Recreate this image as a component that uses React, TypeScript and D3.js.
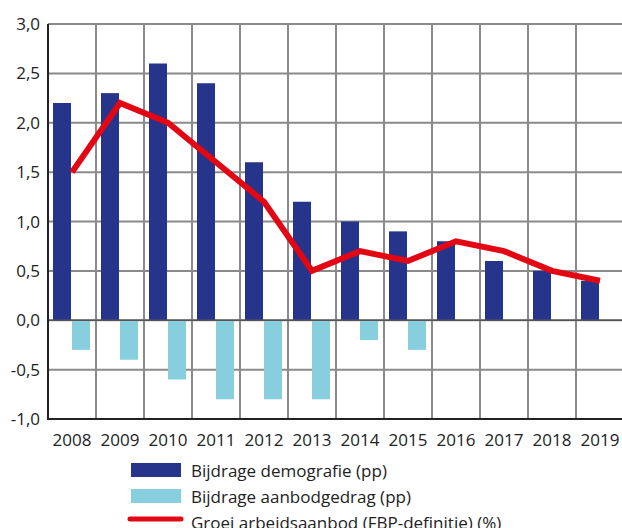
import React from 'react';
import * as d3 from 'd3';

const years = ['2008', '2009', '2010', '2011', '2012', '2013', '2014', '2015', '2016', '2017', '2018', '2019'];
const demografie = [2.2, 2.3, 2.6, 2.4, 1.6, 1.2, 1.0, 0.9, 0.8, 0.6, 0.5, 0.4];
const aanbodgedrag = [-0.3, -0.4, -0.6, -0.8, -0.8, -0.8, -0.2, -0.3, 0, 0, 0, 0];
const groei = [1.5, 2.2, 2.0, 1.6, 1.2, 0.5, 0.7, 0.6, 0.8, 0.7, 0.5, 0.4];
const yTicks = [3.0, 2.5, 2.0, 1.5, 1.0, 0.5, 0.0, -0.5, -1.0];
const legendLabels = ['Bijdrage demografie (pp)', 'Bijdrage aanbodgedrag (pp)', 'Groei arbeidsaanbod (FBP-definitie) (%)'];

const DARK = '#27348b';
const LIGHT = '#87cfdf';
const RED = '#e30613';
const FONT = 'Open Sans, sans-serif';

export default function App() {
  const width = 622, height = 528;
  const margin = { top: 24, left: 48, bottom: 419 };
  const x = d3.scaleBand().domain(years).range([margin.left, margin.left + 48 * years.length]);
  const y = d3.scaleLinear().domain([-1, 3]).range([margin.bottom, margin.top]);
  const right = margin.left + 48 * years.length;

  const line = d3.line<number>()
    .x((_, i) => (x(years[i]) as number) + x.bandwidth() / 2)
    .y((d) => y(d));

  const fmt = (v: number) => d3.format('.1f')(v).replace('.', ',').replace('−', '-');

  return (
    <svg width={width} height={height} style={{ position: 'absolute', left: 0, top: 0 }}>
      <rect width={width} height={height} fill="#fff" />
      {/* grid */}
      {yTicks.map((t) => (
        <line key={'h' + t} x1={margin.left} x2={right} y1={y(t)} y2={y(t)} stroke="#8a8a8a" strokeWidth={2} />
      ))}
      {years.map((yr, i) => i > 0 && (
        <line key={'v' + yr} x1={x(yr)} x2={x(yr)} y1={margin.top} y2={margin.bottom} stroke="#8a8a8a" strokeWidth={2} />
      ))}
      {/* bars */}
      {years.map((yr, i) => (
        <g key={'b' + yr}>
          <rect x={(x(yr) as number) + 5} width={18} y={y(Math.max(0, demografie[i]))}
            height={Math.abs(y(demografie[i]) - y(0))} fill={DARK} />
          {aanbodgedrag[i] !== 0 && (
            <rect x={(x(yr) as number) + 24} width={18} y={y(Math.max(0, aanbodgedrag[i]))}
              height={Math.abs(y(aanbodgedrag[i]) - y(0))} fill={LIGHT} />
          )}
        </g>
      ))}
      {/* zero line and axes */}
      <line x1={margin.left} x2={right} y1={y(0)} y2={y(0)} stroke="#555" strokeWidth={1.5} />
      <line x1={margin.left} x2={margin.left} y1={margin.top} y2={margin.bottom + 1} stroke="#222" strokeWidth={2} />
      <line x1={margin.left} x2={right} y1={margin.bottom} y2={margin.bottom} stroke="#222" strokeWidth={2} />
      {/* line */}
      <path d={line(groei) as string} fill="none" stroke={RED} strokeWidth={6} strokeLinejoin="miter" />
      {/* y labels */}
      {yTicks.map((t) => (
        <text key={'yl' + t} x={40} y={y(t) + 6} textAnchor="end" fontFamily={FONT} fontSize={17} fill="#222">{fmt(t)}</text>
      ))}
      {/* x labels */}
      {years.map((yr) => (
        <text key={'xl' + yr} x={(x(yr) as number) + x.bandwidth() / 2} y={446} textAnchor="middle" fontFamily={FONT} fontSize={17} fill="#222">{yr}</text>
      ))}
      {/* legend */}
      <rect x={131} y={463} width={50} height={14} fill={DARK} />
      <rect x={131} y={489} width={50} height={14} fill={LIGHT} />
      <line x1={130} x2={181} y1={519} y2={519} stroke={RED} strokeWidth={5} strokeLinecap="round" />
      {legendLabels.map((l, i) => (
        <text key={l} x={191} y={477 + i * 26} fontFamily={FONT} fontSize={17} fill="#222">{l}</text>
      ))}
    </svg>
  );
}
